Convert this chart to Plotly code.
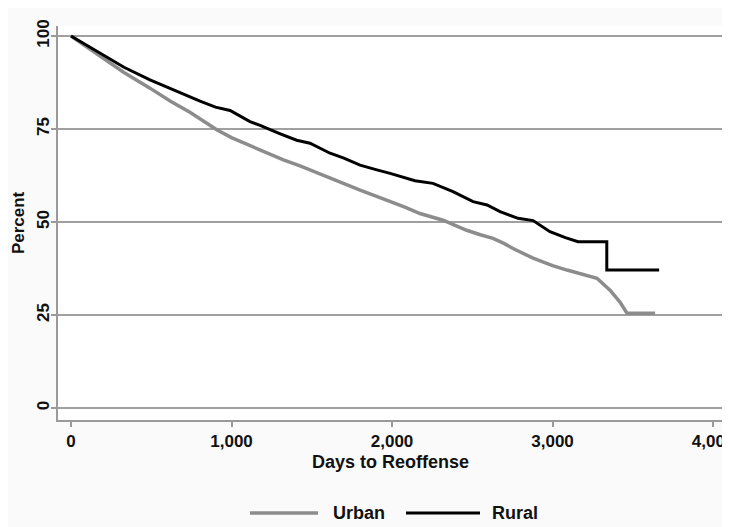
import plotly.graph_objects as go

urban_days = [0, 90, 181, 330, 492, 620, 741, 850, 908, 1000, 1115, 1250, 1323, 1427, 1489,
              1614, 1700, 1801, 1900, 1988, 2080, 2174, 2318, 2400, 2465, 2550, 2629, 2700,
              2754, 2879, 3000, 3090, 3200, 3277, 3358, 3420, 3464, 3639]
urban_pct = [100, 97.3, 94.6, 90.2, 86.0, 82.5, 79.5, 76.5, 74.8, 72.7, 70.5, 68.0, 66.7, 65.1, 64.0,
             61.7, 60.2, 58.6, 57.0, 55.6, 54.0, 52.3, 50.5, 49.0, 47.8, 46.6, 45.6, 44.2,
             42.9, 40.3, 38.3, 37.1, 35.9, 34.9, 31.7, 28.5, 25.5, 25.5]

rural_days = [0, 90, 181, 330, 492, 620, 741, 804, 900, 991, 1115, 1178, 1300, 1406, 1489,
              1614, 1700, 1801, 1900, 1988, 2143, 2255, 2380, 2505, 2592, 2673, 2785, 2879,
              2984, 3080, 3159, 3338, 3338, 3664]
rural_pct = [100, 97.7, 95.3, 91.6, 88.2, 85.8, 83.6, 82.5, 80.9, 80.0, 77.0, 76.0, 73.8, 72.0, 71.2,
             68.5, 67.2, 65.3, 64.1, 63.1, 61.1, 60.4, 58.2, 55.5, 54.6, 52.8, 51.0, 50.4,
             47.4, 45.8, 44.7, 44.7, 37.1, 37.1]

x_ticks = [0, 1000, 2000, 3000, 4000]
x_ticklabels = ["0", "1,000", "2,000", "3,000", "4,000"]
y_ticks = [0, 25, 50, 75, 100]

URBAN_COLOR = "#8c8c8c"
RURAL_COLOR = "#000000"
FONT = "Liberation Sans"
TXT = "#111111"

fig = go.Figure()
fig.add_trace(go.Scatter(x=urban_days, y=urban_pct, mode="lines", name="Urban",
                         line=dict(color=URBAN_COLOR, width=3.5), showlegend=False))
fig.add_trace(go.Scatter(x=rural_days, y=rural_pct, mode="lines", name="Rural",
                         line=dict(color=RURAL_COLOR, width=3), showlegend=False))

# custom legend below the plot
leg_y = -0.236
for x0, x1, col, w, label, tx in [(0.2887, 0.391, URBAN_COLOR, 3.5, "Urban", 0.4105),
                                   (0.5233, 0.6346, RURAL_COLOR, 3, "Rural", 0.6496)]:
    fig.add_shape(type="line", xref="paper", yref="paper", x0=x0, x1=x1, y0=leg_y, y1=leg_y,
                  line=dict(color=col, width=w))
    fig.add_annotation(xref="paper", yref="paper", x=tx, y=leg_y, text=label, showarrow=False,
                       xanchor="left", yanchor="middle",
                       font=dict(family=FONT, size=18, color=TXT, weight="bold"))

# axis titles
fig.add_annotation(xref="paper", yref="paper", x=0.5, y=-0.107, text="Days to Reoffense",
                   showarrow=False, xanchor="center", yanchor="middle",
                   font=dict(family=FONT, size=18, color=TXT, weight="bold"))
fig.add_annotation(xref="paper", yref="paper", x=-0.06, y=0.5, text="Percent", textangle=-90,
                   showarrow=False, xanchor="center", yanchor="middle",
                   font=dict(family=FONT, size=17, color=TXT, weight="bold"))

fig.update_layout(
    width=730, height=527,
    margin=dict(l=50, r=15, t=18, b=115),
    paper_bgcolor="#fafafa", plot_bgcolor="#ffffff",
    font=dict(family=FONT, size=17, color=TXT),
    xaxis=dict(range=[-81, 4062], tickvals=x_ticks, ticktext=x_ticklabels, automargin=False,
               showgrid=False, zeroline=False, showline=True, linecolor="#9a9a9a", linewidth=1.5,
               ticks="outside", ticklen=5, tickcolor="#9a9a9a", tickwidth=1.5,
               tickfont=dict(family=FONT, size=17, color=TXT, weight="bold")),
    yaxis=dict(range=[-3.2, 102.7], tickvals=y_ticks, tickangle=-90, automargin=False,
               ticklabelstandoff=-5,
               showgrid=True, gridcolor="#a0a0a0", gridwidth=1.5, zeroline=False,
               showline=True, linecolor="#9a9a9a", linewidth=1.5,
               ticks="outside", ticklen=5, tickcolor="#9a9a9a", tickwidth=1.5,
               tickfont=dict(family=FONT, size=17, color=TXT, weight="bold")),
)

fig.write_html("out.html")
